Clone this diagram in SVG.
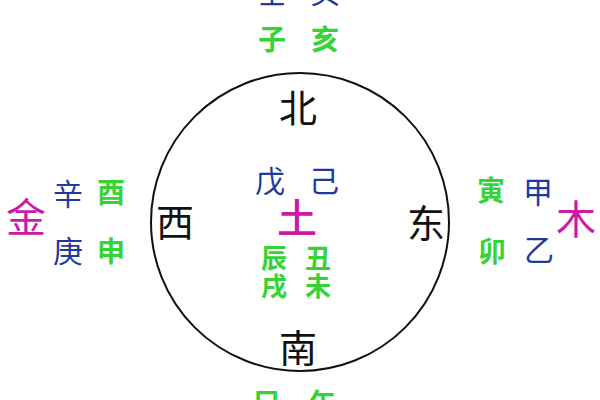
<svg xmlns="http://www.w3.org/2000/svg" width="600" height="400" viewBox="0 0 600 400">
<style>
text{font-family:"Noto Sans CJK SC","Noto Sans CJK JP",sans-serif;text-anchor:middle;dominant-baseline:central}
.dir{fill:#111;font-size:38px}
.stem{fill:#1f3a9c;font-size:30px}
.branch{fill:#35d435;font-size:28px;font-weight:bold}
.small{font-size:26px}
.elem{fill:#cc1aa6;font-size:40px}
</style>
<rect width="600" height="400" fill="#ffffff"/>
<circle cx="300" cy="222" r="149" fill="none" stroke="#111" stroke-width="2"/>
<g id="north">
<text class="stem" x="272" y="-10">壬</text>
<text class="stem" x="325" y="-10">癸</text>
<text class="branch" x="272" y="38">子</text>
<text class="branch" x="325" y="38">亥</text>
<text class="dir" x="298" y="105">北</text>
</g>
<g id="west">
<text class="elem" x="26" y="215">金</text>
<text class="stem" x="68" y="192">辛</text>
<text class="branch" x="111" y="191">酉</text>
<text class="stem" x="68" y="249">庚</text>
<text class="branch" x="111" y="250">申</text>
<text class="dir" x="175" y="219">西</text>
</g>
<g id="east">
<text class="dir" x="426" y="220">东</text>
<text class="branch" x="491" y="189">寅</text>
<text class="stem" x="538" y="190">甲</text>
<text class="branch" x="492" y="250">卯</text>
<text class="stem" x="539" y="248">乙</text>
<text class="elem" x="576" y="217">木</text>
</g>
<g id="center">
<text class="stem" x="270" y="179">戊</text>
<text class="stem" x="324" y="179">己</text>
<text class="elem" x="297" y="216" font-weight="500">土</text>
<text class="branch small" x="274" y="256">辰</text>
<text class="branch small" x="318" y="256">丑</text>
<text class="branch small" x="274" y="284">戌</text>
<text class="branch small" x="318" y="284">未</text>
</g>
<g id="south">
<text class="dir" x="298" y="345">南</text>
<text class="branch" x="267" y="402">巳</text>
<text class="branch" x="323" y="402">午</text>
</g>
</svg>
